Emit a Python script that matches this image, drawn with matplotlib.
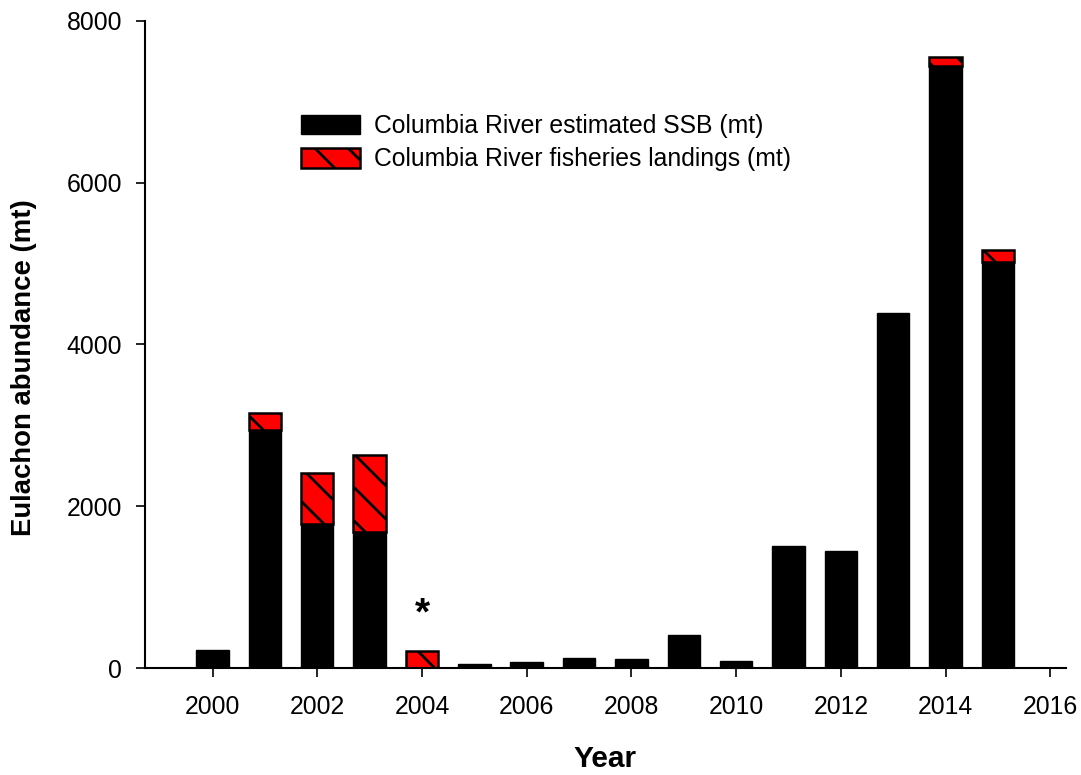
import numpy as np
import matplotlib
matplotlib.use("Agg")
import matplotlib.pyplot as plt

# Columbia River eulachon: estimated SSB and fisheries landings (mt)
years = np.arange(2000, 2016)
ssb = [223, 2946, 1783, 1679, 0, 45, 70, 128, 116, 409, 91, 1502, 1452, 4383, 7441, 5018]
landings = [0, 206, 626, 958, 206, 0, 0, 0, 0, 0, 0, 0, 0, 0, 107, 153]
xticks = np.arange(2000, 2017, 2)
yticks = [0, 2000, 4000, 6000, 8000]

plt.rcParams['font.family'] = ['Liberation Sans', 'DejaVu Sans']
plt.rcParams['hatch.linewidth'] = 2.0
plt.rcParams['hatch.color'] = 'black'

ssb = np.array(ssb, dtype=float)
landings = np.array(landings, dtype=float)

fig = plt.figure(figsize=(10.81, 7.75), dpi=100)
ax = fig.add_axes([145 / 1081, 107 / 775, 921 / 1081, 647.3 / 775])

width = 0.62
ax.bar(years, ssb, width=width, color='black', edgecolor='black', linewidth=1,
       label='Columbia River estimated SSB (mt)')
has_land = landings > 0
ax.bar(years[has_land], landings[has_land], width=width, bottom=ssb[has_land],
       color='red', edgecolor='black', linewidth=1.8, hatch='\\',
       label='Columbia River fisheries landings (mt)')

# no SSB estimate in 2004
ax.text(2004, 440, '*', ha='center', va='bottom', fontsize=28, fontweight='bold')

ax.set_xlim(1998.71, 2016.3)
ax.set_ylim(0, 8000)
ax.set_xticks(xticks)
ax.set_yticks(yticks)
ax.spines['top'].set_visible(False)
ax.spines['right'].set_visible(False)
for s in ['left', 'bottom']:
    ax.spines[s].set_linewidth(1.5)
ax.tick_params(axis='both', direction='out', length=6.5, width=1.2, labelsize=17.8)
ax.tick_params(axis='x', pad=13)
ax.tick_params(axis='y', pad=10)

ax.set_xlabel('Year', fontsize=21.5, fontweight='bold', labelpad=19)
ax.set_ylabel('Eulachon abundance (mt)', fontsize=19.8, fontweight='bold')
ax.yaxis.set_label_coords(-0.1176, 0.464)

ax.legend(loc='upper left', bbox_to_anchor=(300.7 / 1081, 1 - 114 / 775),
          bbox_transform=fig.transFigure, frameon=False, fontsize=17.8,
          handlelength=2.4, handleheight=0.83, handletextpad=0.55,
          labelspacing=0.38, borderpad=0, borderaxespad=0)

plt.savefig('out.png', dpi=100)
